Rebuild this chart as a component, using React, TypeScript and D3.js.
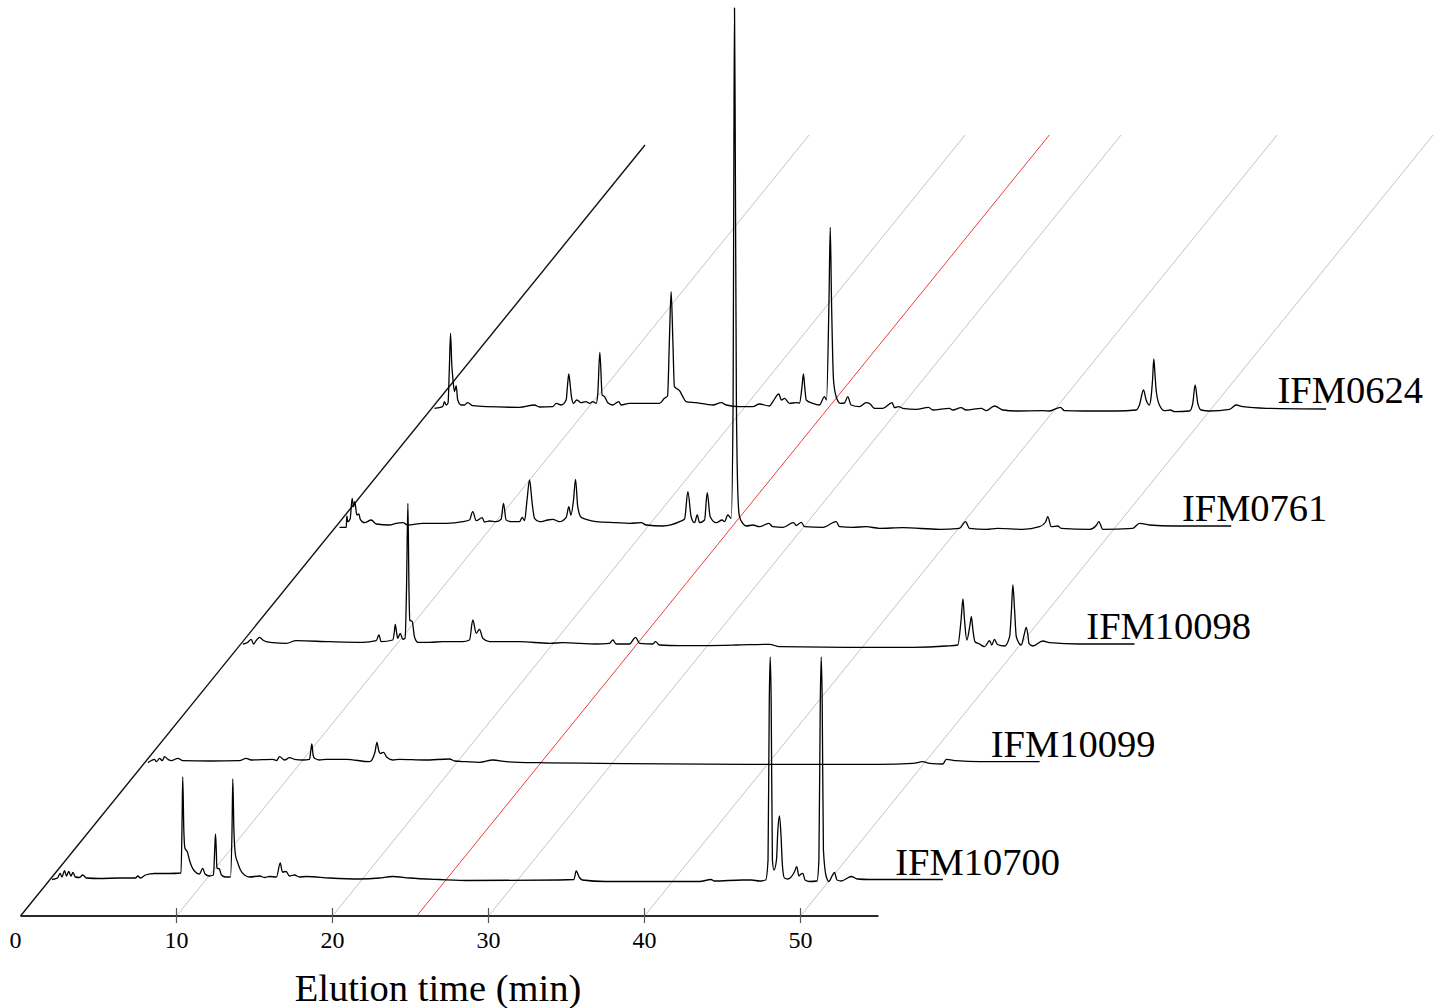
import React, { useRef, useEffect } from 'react';
import * as d3 from 'd3';

// Chromatograms (time in min, signal in relative units above each baseline)
const ifm10700: [number, number][] = [
  [0.15, 0.5], [0.5, 2], [0.67, 6.7], [0.79, 3], [0.95, 9.3], [1.08, 4], [1.22, 8.5], [1.37, 4],
  [1.49, 7.5], [1.65, 3], [1.91, 2.5], [2.12, 5], [2.36, 2], [3.19, 1.5], [4.47, 2], [5.5, 2],
  [5.65, 4], [5.82, 2], [6.14, 5], [6.72, 6.5], [7.69, 6.5], [8.42, 7], [8.49, 60], [8.53, 103],
  [8.6, 50], [8.67, 32], [8.83, 28], [8.96, 20], [9.09, 14], [9.28, 9], [9.6, 6], [9.81, 11.7],
  [9.96, 6], [10.24, 4], [10.5, 5], [10.58, 30], [10.63, 46], [10.68, 30], [10.72, 12], [10.88, 11],
  [11.01, 5], [11.27, 3], [11.59, 3], [11.69, 50], [11.74, 101], [11.81, 50], [11.91, 25], [12.04, 18],
  [12.23, 10], [12.49, 5], [12.81, 3], [13.46, 4], [13.77, 2.5], [14.09, 3.5], [14.54, 3], [14.78, 17],
  [14.92, 8], [15.16, 8.5], [15.37, 4], [15.69, 5], [16.01, 3], [16.46, 3.5], [17.94, 2], [19.86, 1],
  [21.14, 2], [21.97, 3.5], [23.06, 2], [25.0, 0.5], [26.91, -0.5], [32.68, 0], [33.61, 0.5], [33.75, 9],
  [33.96, 2.5], [34.15, 0], [35.63, -1.5], [38.45, -1.5], [41.66, -1.5], [42.4, 0.5], [42.6, -1], [44.4, 0],
  [45.0, 0], [45.5, -1], [45.9, 0], [46.05, 20], [46.13, 180], [46.19, 223], [46.25, 180], [46.33, 20],
  [46.43, 10], [46.59, 20], [46.68, 50], [46.78, 64], [46.88, 45], [46.97, 15], [47.1, 2], [47.3, 1],
  [47.74, 8], [47.89, 13.3], [48.03, 4], [48.13, 5.5], [48.28, 6.7], [48.42, 0], [48.71, -1.5], [49.19, -1],
  [49.31, 20], [49.4, 180], [49.46, 223], [49.52, 180], [49.6, 30], [49.78, 3.5], [49.96, -1.5], [50.15, 4],
  [50.31, 7.5], [50.47, 0], [50.76, -1], [51.15, 2], [51.38, 3.5], [51.78, 1], [52.55, 0.5], [57.26, 0.5],
];

const ifm10099: [number, number][] = [
  [0.17, -0.7], [0.4, 1.5], [0.6, 2.7], [0.71, 0.3], [0.92, 3.7], [1.09, 1.3], [1.24, 5.3], [1.45, 2.7],
  [1.67, 1.3], [2.09, 3.7], [2.41, 1.3], [4.12, 1], [6.04, 1.3], [6.47, 3.7], [6.79, 2], [8.18, 2.7],
  [8.42, 1.5], [8.61, 5.3], [8.93, 2], [9.25, 4.3], [9.57, 2.7], [10.1, 2], [10.53, 2.7], [10.62, 12],
  [10.68, 18], [10.76, 7], [10.85, 3.7], [11.17, 2], [11.6, 2.7], [12.88, 2.7], [14.38, 0.3], [14.73, 10],
  [14.85, 19.7], [14.96, 12], [15.06, 8.7], [15.28, 9.7], [15.49, 4.7], [15.87, 2], [16.3, 2.7], [17.9, 2],
  [19.51, 3], [19.83, 1], [20.58, 0.3], [21.43, -0.3], [22.28, 2], [23.14, 0.3], [25.28, -0.7], [29.12, -1.3],
  [38.53, -2.3], [47.07, -2.3], [49.21, -1.3], [49.85, 0.3], [50.28, -1.3], [51.13, -2], [51.35, 2.7],
  [51.99, 1.3], [53.49, 0.3], [57.33, 0.3],
];

const ifm10098: [number, number][] = [
  [0.13, 0], [0.43, 1.5], [0.67, 4.7], [0.81, 0], [1.01, 4], [1.2, 6.7], [1.41, 4], [1.63, 2.3],
  [2.05, 1.3], [2.91, 0.7], [3.55, 3.3], [5.69, 2.3], [7.82, 1.7], [8.68, 3.3], [8.85, 9], [9.0, 2.3],
  [9.74, 4], [9.84, 12], [9.9, 19.7], [9.98, 12], [10.06, 5.7], [10.22, 10.7], [10.38, 4.7], [10.53, 6],
  [10.62, 54], [10.71, 140.7], [10.78, 54], [10.83, 24], [10.99, 22.3], [11.13, 7.3], [11.35, 1.7],
  [12.1, 1.7], [12.95, 2.3], [14.23, 2.3], [14.66, 4], [14.87, 24], [15.09, 10.7], [15.3, 14.7],
  [15.51, 5.7], [15.94, 2.3], [17.87, 2.3], [19.79, 0.7], [20.64, 1.3], [22.78, 0], [23.63, 0.7],
  [23.85, 4], [24.06, 0], [24.92, 0], [25.3, 6.7], [25.56, 0.7], [26.41, 0], [26.58, 2.3], [26.84, -1],
  [28.12, -1.7], [31.76, -1], [33.89, -0.3], [34.53, -2.7], [38.81, -3.3], [43.08, -3.3], [45.22, -2],
  [45.96, -1], [46.17, 24], [46.29, 45], [46.39, 24], [46.54, 4], [46.74, 19], [46.83, 27.3], [46.93, 14],
  [47.06, 2.3], [47.35, 0], [47.67, -2.7], [48.0, 3.3], [48.14, -1], [48.31, 4.7], [48.5, -0.5],
  [48.97, -2], [49.28, 7.3], [49.4, 34], [49.49, 59], [49.6, 34], [49.71, 7.3], [50.03, -1], [50.21, 9],
  [50.35, 16.7], [50.47, 7], [50.52, 0.7], [50.77, -2], [51.41, 3], [51.84, 1.3], [53.76, 0], [57.29, 0],
];

const ifm0761: [number, number][] = [
  [0.2, -1.3], [0.63, -1.3], [0.67, 10], [0.73, 4.3], [0.88, 7], [1.01, 27.7], [1.1, 19.3], [1.18, 24.3],
  [1.31, 11], [1.44, 12], [1.53, 6.7], [1.8, 3.3], [2.23, 6], [2.55, 2], [3.4, 1], [3.83, 2.7],
  [4.26, 3.3], [4.58, 1], [5.54, 2.7], [7.04, 2.7], [8.1, 4.3], [8.53, 6], [8.74, 14.3], [8.96, 5.3],
  [9.35, 8.3], [9.49, 4], [9.81, 5], [10.24, 4.3], [10.56, 6.7], [10.71, 22.7], [10.88, 6], [11.21, 4.3],
  [11.74, 4.3], [11.91, 8.7], [12.06, 5.3], [12.22, 26], [12.38, 46], [12.55, 22.7], [12.7, 7.7],
  [13.02, 4.3], [13.55, 6], [13.87, 6.7], [14.3, 4.3], [14.73, 8.7], [14.9, 19.3], [15.03, 11], [15.2, 26],
  [15.33, 46.7], [15.47, 19.3], [15.69, 8.7], [16.01, 6.7], [16.65, 4.3], [17.94, 3.3], [18.79, 2.7],
  [19.54, 3.3], [19.86, 1], [20.92, 0], [22.0, 4.3], [22.32, 7], [22.53, 34.3], [22.74, 9.3], [22.96, 3.3],
  [23.13, 11], [23.28, 3.3], [23.6, 6], [23.77, 33.3], [23.96, 9.3], [24.35, 3.3], [24.73, 6], [24.88, 4.3],
  [25.09, 11], [25.31, 7.7], [25.43, 126], [25.48, 376], [25.52, 518], [25.57, 376], [25.64, 126],
  [25.75, 26], [25.84, 9.3], [26.05, 2.7], [26.27, 0], [26.69, 1], [27.12, -0.7], [27.72, 2.7],
  [27.97, -0.7], [28.62, -1.3], [29.3, 3.3], [29.49, 0.5], [29.8, 3.7], [30.01, -0.7], [31.18, -1.3],
  [32.04, 4.3], [32.25, -0.7], [33.1, -1.3], [33.96, -0.7], [34.81, -2.3], [36.31, -1.7], [38.66, -3.3],
  [39.94, -2.3], [40.33, 4.3], [40.58, -2.3], [41.65, -3.3], [42.4, -2.3], [44.0, -3.3], [45.07, -0.7],
  [45.46, 4], [45.6, 9.3], [45.82, -0.7], [46.24, 0], [46.46, -2.3], [48.28, -3.3], [48.73, 1],
  [48.87, 4.3], [49.13, -3.3], [51.05, -2.3], [51.48, 2.7], [52.12, 1], [53.62, 0], [57.36, 0],
];

const ifm0624: [number, number][] = [
  [0.16, -0.3], [0.69, 1.3], [0.8, 6.3], [0.91, 3], [1.03, 5], [1.11, 38], [1.19, 74.7], [1.27, 43],
  [1.33, 31.3], [1.44, 16.3], [1.55, 22.3], [1.65, 8], [1.87, 3], [2.08, 3], [2.29, 5.3], [2.62, 2.3],
  [3.47, 1.3], [5.61, 0.7], [6.57, 3], [6.89, 1], [7.74, 1.3], [7.96, 4.7], [8.28, 3], [8.6, 8],
  [8.69, 23], [8.77, 34], [8.86, 23], [8.94, 11.3], [9.07, 4.7], [9.28, 8], [9.56, 5.3], [9.88, 6.3],
  [10.1, 4.7], [10.31, 6.3], [10.53, 4.7], [10.63, 14.7], [10.76, 55.7], [10.91, 13], [11.06, 11.3],
  [11.27, 5.3], [11.59, 3], [11.97, 6.3], [12.13, 3], [12.66, 4.7], [13.73, 4.7], [14.58, 4.7],
  [14.9, 9.7], [15.1, 12], [15.22, 68], [15.33, 116.3], [15.44, 68], [15.54, 21.3], [15.87, 17.3],
  [16.08, 11.3], [16.29, 6.3], [16.94, 5.3], [18.0, 3], [18.54, 5.3], [18.86, 3], [19.71, 1.3],
  [20.56, 1.3], [20.99, 4], [21.63, 2], [21.85, 6.3], [22.23, 14], [22.4, 8], [22.6, 9.7], [22.92, 4.7],
  [23.35, 5.3], [23.56, 5], [23.73, 23], [23.81, 34], [23.9, 20], [23.99, 8], [24.41, 4.7], [24.84, 3],
  [25.16, 11.3], [25.29, 8], [25.45, 108], [25.53, 180.7], [25.61, 108], [25.74, 28], [25.91, 11.3],
  [26.17, 4.7], [26.44, 5], [26.65, 11.3], [26.87, 3], [27.4, 1.3], [27.83, 5.3], [28.09, 4],
  [28.37, -0.3], [28.9, -0.3], [29.5, 5.3], [29.65, 0.3], [29.92, 1.3], [30.18, -0.3], [31.04, -1.3],
  [31.83, 0.7], [32.1, -2], [33.17, -0.3], [33.38, -2], [33.92, 0.3], [34.24, -2], [35.21, -0.3],
  [35.53, -2.7], [36.06, 2], [36.59, -2], [37.45, -3], [39.15, -2.7], [39.58, -3], [40.29, 0.7],
  [40.54, -2.7], [41.72, -3], [43.86, -3], [45.14, -2], [45.35, 3], [45.61, 18], [45.78, 8], [45.99, 3],
  [46.1, 11.3], [46.19, 28], [46.27, 49], [46.35, 33], [46.42, 18], [46.63, 3], [46.96, -2.7], [47.34, -2],
  [47.6, -3.7], [48.56, -3], [48.77, 4.7], [48.92, 23], [49.09, 4.7], [49.31, -2], [49.84, -3],
  [51.12, -1.3], [51.55, 3], [51.97, 1.3], [53.47, -0.3], [57.32, -1],
];

const sampleNames = ['IFM10700', 'IFM10099', 'IFM10098', 'IFM0761', 'IFM0624'];
const sampleTraces = [ifm10700, ifm10099, ifm10098, ifm0761, ifm0624];
const timeTicks = [0, 10, 20, 30, 40, 50];
const guideTimes = [10, 20, 30, 40, 50];
const markerTime = 25.4;
const labelTime = 54.2;

const App = () => {
  const svgRef = useRef<SVGSVGElement>(null);

  useEffect(() => {
    if (!svgRef.current) return;

    const width = 1442;
    const height = 1008;
    const axisY = 916;
    const slant = 0.81; // horizontal shift per pixel of depth
    const firstDepth = 36;
    const depthStep = 118;
    const font = '"Liberation Serif", "Times New Roman", serif';

    const svg = d3.select(svgRef.current);
    svg.selectAll('*').remove();
    svg.attr('width', width).attr('height', height);

    svg.append('rect').attr('width', width).attr('height', height).attr('fill', '#fff');

    const xScale = d3.scaleLinear().domain([0, 55]).range([20.5, 878.5]);
    const signal = d3.scaleLinear().domain([0, 100]).range([0, 100]);

    const px = (t: number, depth: number) => xScale(t) + slant * depth;
    const py = (h: number, depth: number) => axisY - depth - signal(h);

    // Grey guide lines going back in depth
    guideTimes.forEach(t => {
      svg.append('line')
        .attr('x1', px(t, 0)).attr('y1', py(0, 0))
        .attr('x2', px(t, 781)).attr('y2', py(0, 781))
        .attr('stroke', '#c4c4c4')
        .attr('stroke-width', 1);
    });

    svg.append('line')
      .attr('x1', px(markerTime, 0)).attr('y1', py(0, 0))
      .attr('x2', px(markerTime, 781)).attr('y2', py(0, 781))
      .attr('stroke', '#f23c3c')
      .attr('stroke-width', 1);

    // Depth axis
    svg.append('line')
      .attr('x1', px(0, 0)).attr('y1', py(0, 0))
      .attr('x2', px(0, 771)).attr('y2', py(0, 771))
      .attr('stroke', '#111')
      .attr('stroke-width', 1.4);

    // Time axis
    svg.append('line')
      .attr('x1', xScale(0)).attr('y1', axisY)
      .attr('x2', xScale(55)).attr('y2', axisY)
      .attr('stroke', '#2a2a2a')
      .attr('stroke-width', 1.8);

    timeTicks.filter(t => t > 0).forEach(t => {
      svg.append('line')
        .attr('x1', xScale(t)).attr('y1', axisY - 8)
        .attr('x2', xScale(t)).attr('y2', axisY + 7)
        .attr('stroke', '#555')
        .attr('stroke-width', 1.2);
    });

    svg.selectAll('.tick-label')
      .data(timeTicks)
      .enter()
      .append('text')
      .attr('class', 'tick-label')
      .attr('x', d => (d === 0 ? xScale(d) - 5 : xScale(d)))
      .attr('y', axisY + 32)
      .attr('text-anchor', 'middle')
      .attr('font-family', font)
      .attr('font-size', 24)
      .text(d => d);

    svg.append('text')
      .attr('x', 438)
      .attr('y', 1001)
      .attr('text-anchor', 'middle')
      .attr('font-family', font)
      .attr('font-size', 38.5)
      .text('Elution time (min)');

    // Chromatogram traces
    sampleTraces.forEach((trace, i) => {
      const depth = firstDepth + depthStep * i;
      const line = d3.line<[number, number]>()
        .x(d => px(d[0], depth))
        .y(d => py(d[1], depth))
        .curve(d3.curveMonotoneX);

      svg.append('path')
        .attr('d', line(trace))
        .attr('fill', 'none')
        .attr('stroke', '#000')
        .attr('stroke-width', 1.3)
        .attr('stroke-linejoin', 'round');

      svg.append('text')
        .attr('x', px(labelTime, depth))
        .attr('y', py(5, depth))
        .attr('font-family', font)
        .attr('font-size', 38.5)
        .text(sampleNames[i]);
    });
  }, []);

  return (
    <div style={{ position: 'absolute', left: 0, top: 0 }}>
      <svg ref={svgRef} style={{ display: 'block' }}></svg>
    </div>
  );
};

export default App;
